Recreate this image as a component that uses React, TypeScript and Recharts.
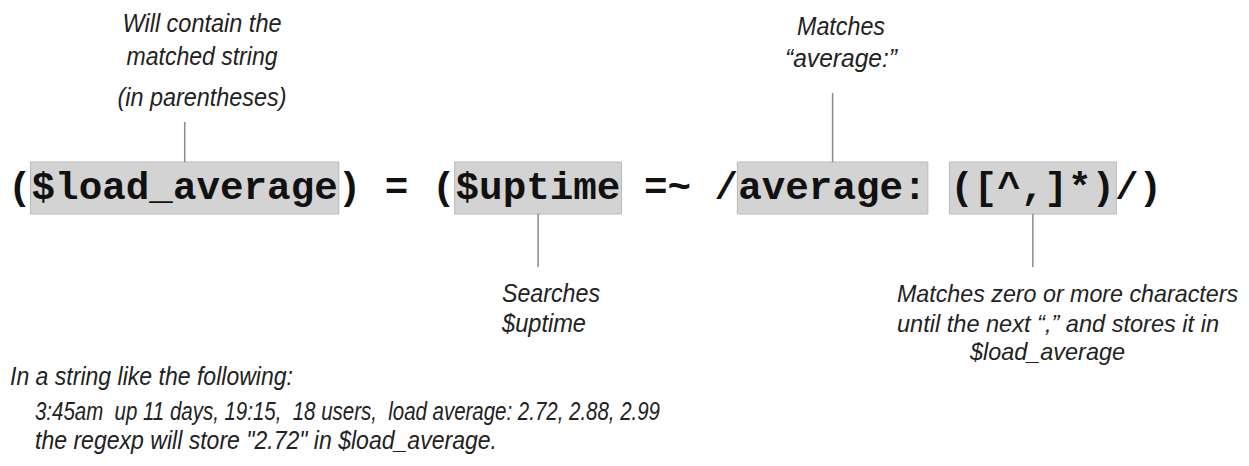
import React from "react";
import { ComposedChart, Scatter, XAxis, YAxis, ReferenceArea, ReferenceLine } from "recharts";

// ---- content ----
const codeLine = "($load_average) = ($uptime =~ /average: ([^,]*)/)";
// highlighted character ranges of the code line [from, to)
const highlightFrom = [1, 19, 31, 40];
const highlightTo = [14, 26, 39, 47];
// which highlight each note points to, and whether the note sits above (-1) or below (1)
const noteTarget = [0, 2, 1, 3];
const noteSide = [-1, -1, 1, 1];
const noteLines: string[][] = [
  ["Will contain the", "matched string", "(in parentheses)"],
  ["Matches", "\u201caverage:\u201d"],
  ["Searches", "$uptime"],
  ["Matches zero or more characters", "until the next \u201c,\u201d and stores it in", "$load_average"],
];
const footerLines = [
  "In a string like the following:",
  "3:45am  up 11 days, 19:15,  18 users,  load average: 2.72, 2.88, 2.99",
  "the regexp will store \"2.72\" in $load_average.",
];

// ---- layout ----
const W = 1249;
const H = 466;
const codeX0 = 8;
const cellW = 23.56;
const codeBaseline = 199;
const boxTop = 162;
const boxBottom = 214;
const noteX = [[202, 202, 202], [841, 841], [502, 502], [897, 897, 970]];
const noteAnchor = ["middle", "middle", "start", "start"];
const noteSize = [26, 26, 26, 24];
const noteY = [[32, 65, 106], [35, 67], [302, 332], [302, 332, 360]];
const noteWidth = [[159, 151, 169], [88, 112], [98, 84], [341, 322, 155]];
const connectorFar = [122, 93, 267, 267];
const footerX = [10, 35, 35];
const footerY = [385, 420, 449];
const footerWidth = [283, 625, 462];

const textRows: any[] = [];
noteLines.forEach((lines, i) =>
  lines.forEach((t, j) =>
    textRows.push({
      x: noteX[i][j],
      y: noteY[i][j],
      text: t,
      anchor: noteAnchor[i],
      len: noteWidth[i][j],
      size: noteSize[i],
    })
  )
);
footerLines.forEach((t, i) =>
  textRows.push({ x: footerX[i], y: footerY[i], text: t, anchor: "start", len: footerWidth[i], size: 26 })
);

const codeRows = [{ x: codeX0, y: codeBaseline, text: codeLine }];

const boxes = highlightFrom.map((f, i) => ({
  x1: codeX0 + f * cellW - 1,
  x2: codeX0 + highlightTo[i] * cellW + 1,
}));

const connectors = noteTarget.map((b, i) => {
  const cx = (boxes[b].x1 + boxes[b].x2) / 2;
  const near = noteSide[i] < 0 ? boxTop : boxBottom;
  return { x: cx, yA: connectorFar[i], yB: near };
});

const NoteText = (props: any) => {
  const { cx, cy, payload } = props;
  return (
    <text
      x={cx}
      y={cy}
      textAnchor={payload.anchor}
      textLength={payload.len}
      lengthAdjust="spacingAndGlyphs"
      fontFamily="'Liberation Sans', Arial, sans-serif"
      fontStyle="italic"
      fontSize={payload.size}
      fill="#222"
      style={{ whiteSpace: "pre" }}
    >
      {payload.text}
    </text>
  );
};

const CodeText = (props: any) => {
  const { cx, cy, payload } = props;
  return (
    <text
      x={cx}
      y={cy}
      fontFamily="'Liberation Mono', 'Courier New', monospace"
      fontWeight="bold"
      fontSize={cellW / 0.6}
      fill="#111"
      style={{ whiteSpace: "pre" }}
    >
      {payload.text}
    </text>
  );
};

export default function App() {
  return (
    <div style={{ width: W, height: H, background: "#fff" }}>
      <style>{"body{margin:0;background:#fff}"}</style>
      <ComposedChart width={W} height={H} margin={{ top: 0, right: 0, bottom: 0, left: 0 }}>
        <XAxis type="number" dataKey="x" domain={[0, W]} hide allowDataOverflow />
        <YAxis type="number" dataKey="y" domain={[0, H]} reversed hide allowDataOverflow />
        {boxes.map((b, i) => (
          <ReferenceArea
            key={"b" + i}
            x1={b.x1}
            x2={b.x2}
            y1={boxTop}
            y2={boxBottom}
            fill="#d3d3d3"
            fillOpacity={1}
            stroke="#b9b9b9"
            strokeWidth={1}
          />
        ))}
        {connectors.map((c, i) => (
          <ReferenceLine
            key={"c" + i}
            segment={[
              { x: c.x, y: c.yA },
              { x: c.x, y: c.yB },
            ]}
            stroke="#8a8a8a"
            strokeWidth={1.5}
          />
        ))}
        <Scatter data={codeRows} shape={CodeText} isAnimationActive={false} />
        <Scatter data={textRows} shape={NoteText} isAnimationActive={false} />
      </ComposedChart>
    </div>
  );
}
